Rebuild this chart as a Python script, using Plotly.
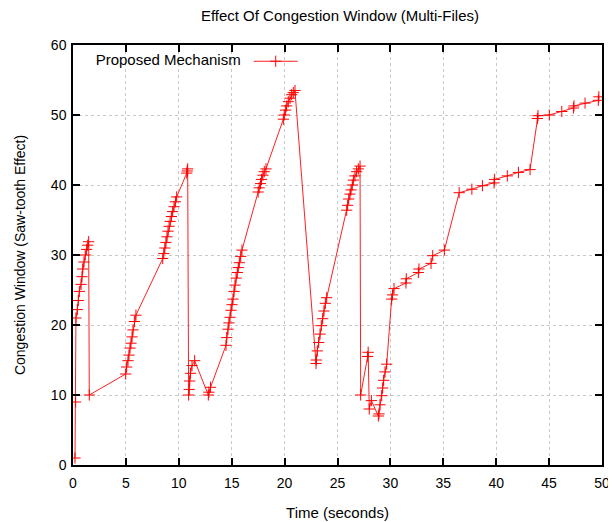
import plotly.graph_objects as go

time_s = [0.19, 0.25, 0.28, 0.41, 0.5, 0.6, 0.76, 0.85, 0.91, 1.04, 1.16, 1.29, 1.39, 1.48,
          1.54, 4.98, 5.07, 5.2, 5.29, 5.39, 5.48, 5.58, 5.67, 5.8, 5.95,
          8.48, 8.58, 8.68, 8.78, 8.88, 8.98, 9.08, 9.18, 9.3, 9.42, 9.55, 9.68, 9.8,
          10.75, 10.8, 10.84,
          10.93, 10.98, 11.03, 11.1, 11.25, 11.5, 12.79, 12.85, 13.0,
          14.46, 14.53, 14.65, 14.74, 14.84, 14.93, 15.03, 15.12, 15.22, 15.31, 15.41, 15.53,
          15.62, 15.72, 15.85, 15.97,
          17.5, 17.6, 17.72, 17.82, 17.95, 18.08, 18.24,
          19.88, 19.97, 20.1, 20.2, 20.35, 20.51, 20.67, 20.82, 20.98,
          22.97, 23.0, 23.09, 23.22, 23.35, 23.47, 23.6, 23.72, 23.85, 23.98,
          25.87, 25.96, 26.06, 26.18, 26.28, 26.4, 26.5, 26.65, 26.81, 26.97, 27.13,
          27.19, 27.85, 27.9, 28.0, 28.2, 28.86, 28.92, 29.02, 29.18, 29.27, 29.36, 29.49, 29.65,
          30.12, 30.2, 30.34, 31.47, 31.5, 32.64, 32.7, 33.84, 34.0, 35.1,
          36.5, 37.7, 38.7, 39.8, 39.85, 41.05, 42.1, 43.2,
          43.89, 43.95, 45.02, 46.2, 47.3, 47.35, 48.4, 49.65, 49.7]

cwnd = [1, 9, 21, 22.2, 23.5, 24.8, 25.8, 26.9, 28, 29, 30, 30.8, 31.4, 31.9,
        10, 13, 14, 14.9, 15.7, 16.7, 17.4, 18.3, 19.3, 20.5, 21.4,
        29.5, 30.2, 31.0, 31.8, 32.6, 33.4, 34.1, 34.8, 35.5, 36.2, 36.9, 37.6, 38.3,
        41.7, 42.0, 42.3,
        10, 10.8, 12.0, 13.1, 14.2, 14.9, 10, 10.4, 11.1,
        17.1, 18.2, 19.4, 20.3, 21.1, 22.1, 22.9, 23.7, 24.8, 25.7, 26.7, 27.5,
        28.2, 28.9, 29.8, 30.7,
        39, 39.6, 40.2, 40.8, 41.4, 41.9, 42.3,
        49.4, 50, 50.7, 51.3, 51.9, 52.4, 52.9, 53.2, 53.5,
        14.5, 15.0, 16.3, 17.5, 18.7, 19.9, 20.9, 22, 23.1, 23.9,
        36.4, 37.1, 38, 38.7, 39.3, 40, 40.7, 41.3, 41.9, 42.3, 42.7,
        10, 15.5, 16.1, 8.0, 9.2, 7.0, 7.3, 8.6, 9.9, 11, 12.1, 13.3, 14.4,
        23.7, 24.3, 25.2, 26.0, 26.6, 27.5, 28, 28.8, 29.9, 30.7,
        38.9, 39.4, 39.9, 40.3, 40.8, 41.3, 41.8, 42.2,
        49.5, 49.9, 50, 50.5, 51, 51.3, 51.7, 52.1, 52.6]

x_ticks = [0, 5, 10, 15, 20, 25, 30, 35, 40, 45, 50]
y_ticks = [0, 10, 20, 30, 40, 50, 60]

FONT = "Liberation Sans, Arial, sans-serif"

fig = go.Figure()
fig.add_trace(go.Scatter(
    x=time_s, y=cwnd, mode="lines+markers", name=" ",
    line=dict(color="#ff2020", width=1),
    marker=dict(symbol="cross-thin", size=8, line=dict(color="#ff0000", width=1), color="#ff0000"),
    showlegend=True,
))

axis_common = dict(
    showline=True, linecolor="black", linewidth=1.5, mirror="allticks",
    ticks="inside", ticklen=7, tickwidth=1.5, tickcolor="black",
    showgrid=True, gridcolor="#c8c8c8", griddash="dot", gridwidth=1,
    zeroline=False, automargin=False,
    tickfont=dict(family=FONT, size=14, color="black"),
)

fig.update_xaxes(range=[0, 50], tickvals=x_ticks, ticklabelstandoff=4,
                 title=dict(text="Time (seconds)", font=dict(family=FONT, size=15, color="black"), standoff=18),
                 **axis_common)
fig.update_yaxes(range=[0, 60], tickvals=y_ticks, ticklabelstandoff=2,
                 title=dict(text="Congestion Window (Saw-tooth Effect)", font=dict(family=FONT, size=14, color="black"), standoff=22),
                 **axis_common)

fig.update_layout(
    width=608, height=514,
    margin=dict(l=65, r=14, t=37, b=57, autoexpand=False),
    paper_bgcolor="white", plot_bgcolor="white",
    title=dict(text="Effect Of Congestion Window (Multi-Files)", x=0.546, xanchor="center",
               y=0.984, yanchor="middle", font=dict(family=FONT, size=15, color="black")),
    legend=dict(x=0.039, y=1.0, xanchor="left", yanchor="top",
                bgcolor="rgba(0,0,0,0)", itemwidth=44,
                title=dict(text="Proposed Mechanism", side="left",
                           font=dict(family=FONT, size=15, color="black")),
                font=dict(family=FONT, size=15, color="black")),
    showlegend=True,
)

fig.write_html("out.html")
